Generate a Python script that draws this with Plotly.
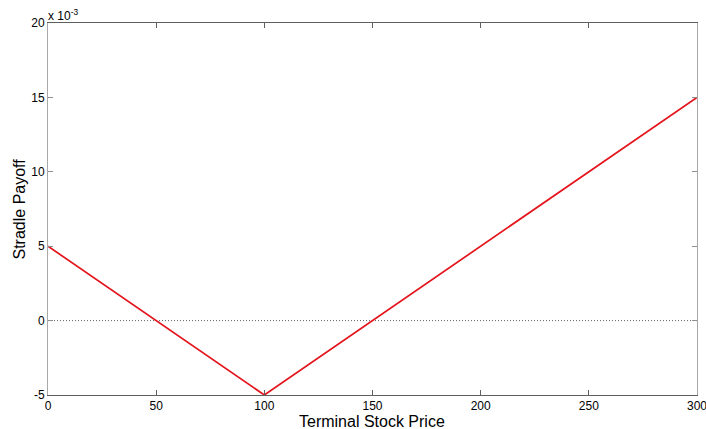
import plotly.graph_objects as go

# Straddle payoff at expiry vs terminal stock price
stock_price = [0, 100, 300]
payoff = [0.005, -0.005, 0.015]

x_ticks = [0, 50, 100, 150, 200, 250, 300]
y_ticks = [-0.005, 0, 0.005, 0.010, 0.015, 0.020]
y_tick_labels = ["-5", "0", "5", "10", "15", "20"]

fig = go.Figure()

# zero reference line
fig.add_trace(go.Scatter(
    x=[x_ticks[0], x_ticks[-1]], y=[0, 0], mode="lines",
    line=dict(color="#606060", width=1, dash="1px,2px"),
    hoverinfo="skip", showlegend=False,
))

fig.add_trace(go.Scatter(
    x=stock_price, y=payoff, mode="lines",
    line=dict(color="#e4141c", width=1.7),
    showlegend=False,
))

font = dict(family="Liberation Sans, Arial, sans-serif", size=12, color="#000000")

fig.update_layout(
    width=706, height=429,
    margin=dict(l=48, r=9, t=23, b=34, autoexpand=False),
    paper_bgcolor="white", plot_bgcolor="white",
    font=font,
    xaxis=dict(
        range=[0, 300], tickvals=x_ticks, ticks="inside", ticklen=5,
        tickcolor="#606060", showline=True, linecolor="#606060", linewidth=1,
        mirror="ticks", showgrid=False, zeroline=False, automargin=False,
        ticklabeloverflow="allow", ticklabelstandoff=0,
        tickfont=dict(size=12),
    ),
    yaxis=dict(
        range=[-0.005, 0.020], tickvals=y_ticks, ticktext=y_tick_labels,
        ticks="inside", ticklen=5, tickcolor="#909090",
        showline=True, linecolor="#a8a8a8", linewidth=1,
        mirror="ticks", showgrid=False, zeroline=False, automargin=False,
        ticklabeloverflow="allow",
        tickfont=dict(size=12),
    ),
    annotations=[
        # exponent for the y tick labels
        dict(text="x 10<sup>-3</sup>", xref="paper", yref="paper",
             x=0, y=1, xanchor="left", yanchor="bottom", showarrow=False,
             font=dict(size=12), xshift=-2, yshift=-2),
        # axis titles
        dict(text="Terminal Stock Price", xref="paper", yref="paper",
             x=0.5, y=0, xanchor="center", yanchor="middle", showarrow=False,
             font=dict(size=16), xshift=-1, yshift=-26),
        dict(text="Stradle Payoff", xref="paper", yref="paper",
             x=0, y=0.5, xanchor="center", yanchor="middle", showarrow=False,
             textangle=-90, font=dict(size=16), xshift=-29.5),
    ],
)

fig.write_html("out.html")
